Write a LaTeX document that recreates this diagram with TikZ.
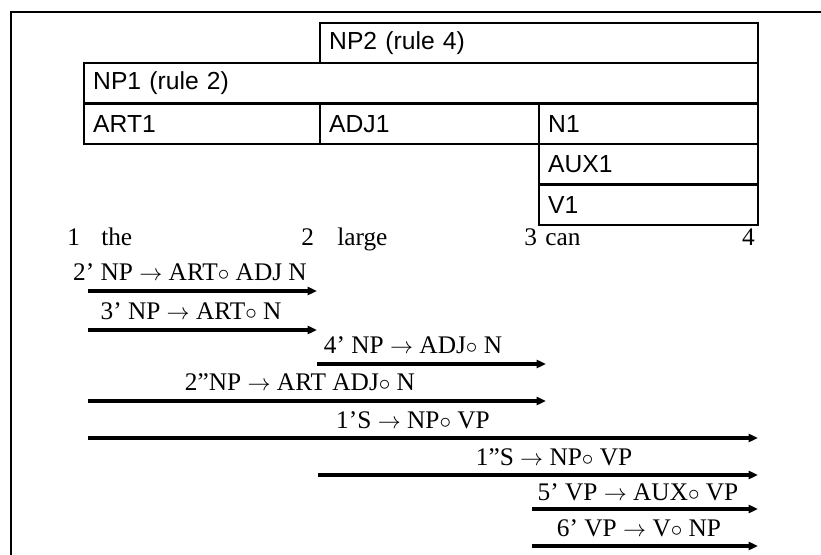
\documentclass[tikz,border=0pt]{standalone}
\usepackage{fontspec}
\setmainfont{Liberation Serif}
\newfontfamily\boxfont{Liberation Sans}
\usetikzlibrary{arrows.meta}

\begin{document}
\begin{tikzpicture}[
  x=0.75pt, y=-0.75pt,
  >={Triangle[length=7pt, width=6pt]},
  cell/.style={draw, line width=1.3pt, anchor=north west, minimum height=30pt, inner xsep=7pt, inner ysep=0pt, align=left, font=\fontsize{18.5}{18.5}\boxfont},
  word/.style={anchor=base west, inner sep=0pt, font=\fontsize{19}{19}\selectfont},
  rulelbl/.style={anchor=base, inner sep=0pt, font=\fontsize{19}{19}\selectfont},
  edge/.style={->, line width=2.6pt}
]
  \useasboundingbox (0,0) rectangle (821,555);
  \draw[line width=1.5pt] (821,12) -- (11,12) -- (11,555);

  %---------------- CHART ----------------%
  \node[cell, text width=314.5pt] (np2) at (319,22) {NP2 (rule 4)};
  \node[cell, text width=491.5pt] (np1) at (83,62) {NP1 (rule 2)};
  \node[cell, text width=163pt] (art1) at (83,103) {ART1};
  \node[cell, text width=150.25pt] (adj1) at (319,103) {ADJ1};
  \node[cell, text width=150.25pt] (n1) at (538,103) {N1};
  \node[cell, text width=150.25pt] (aux1) at (538,143) {AUX1};
  \node[cell, text width=150.25pt] (v1) at (538,184) {V1};

  %---------------- SENTENCE ----------------%
  \node[word] (pos1) at (67,246) {1};
  \node[word] (the) at (101,246) {the};
  \node[word] (pos2) at (301,246) {2};
  \node[word] (large) at (337,246) {large};
  \node[word] (pos3) at (524,246) {3};
  \node[word] (can) at (545,246) {can};
  \node[word, anchor=base east] (pos4) at (755,246) {4};

  %---------------- ACTIVE ARCS ----------------%
  \coordinate (a1s) at (88,291);  \coordinate (a1e) at (317,291);
  \coordinate (a2s) at (88,330);  \coordinate (a2e) at (317,330);
  \coordinate (a3s) at (317,364); \coordinate (a3e) at (546,364);
  \coordinate (a4s) at (88,401);  \coordinate (a4e) at (546,401);
  \coordinate (a5s) at (88,438);  \coordinate (a5e) at (758,438);
  \coordinate (a6s) at (318,475); \coordinate (a6e) at (758,475);
  \coordinate (a7s) at (532,509); \coordinate (a7e) at (758,509);
  \coordinate (a8s) at (532,546); \coordinate (a8e) at (758,546);

  \draw[edge] (a1s) -- (a1e);
  \draw[edge] (a2s) -- (a2e);
  \draw[edge] (a3s) -- (a3e);
  \draw[edge] (a4s) -- (a4e);
  \draw[edge] (a5s) -- (a5e);
  \draw[edge] (a6s) -- (a6e);
  \draw[edge] (a7s) -- (a7e);
  \draw[edge] (a8s) -- (a8e);

  \node[rulelbl] (r2a) at (190,281) {2' NP $\rightarrow$ ART$\circ$ ADJ N};
  \node[rulelbl] (r3a) at (191,320) {3' NP $\rightarrow$ ART$\circ$ N};
  \node[rulelbl] (r4a) at (413,354) {4' NP $\rightarrow$ ADJ$\circ$ N};
  \node[rulelbl] (r2b) at (300,391) {2''NP $\rightarrow$ ART ADJ$\circ$ N};
  \node[rulelbl] (r1a) at (413,429) {1'S $\rightarrow$ NP$\circ$ VP};
  \node[rulelbl] (r1b) at (554,466) {1''S $\rightarrow$ NP$\circ$ VP};
  \node[rulelbl] (r5a) at (638,501) {5' VP $\rightarrow$ AUX$\circ$ VP};
  \node[rulelbl] (r6a) at (639,537) {6' VP $\rightarrow$ V$\circ$ NP};

\end{tikzpicture}
\end{document}
